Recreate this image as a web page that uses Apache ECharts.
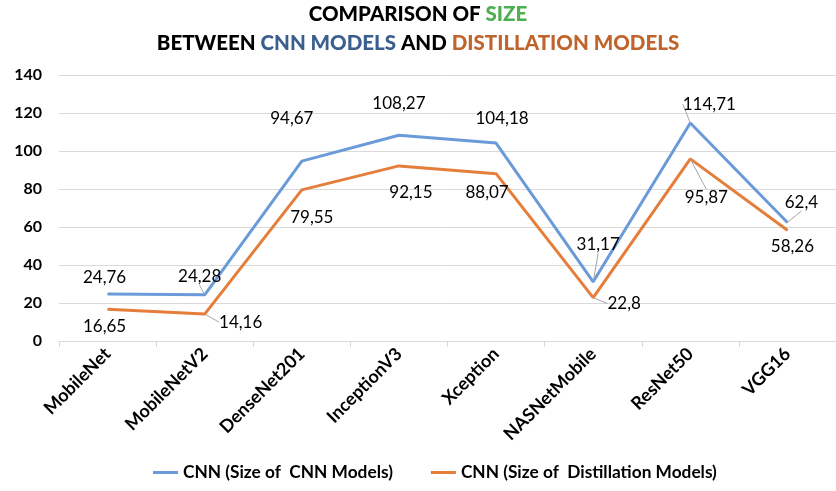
<!DOCTYPE html>
<html><head><meta charset="utf-8">
<script src="https://cdn.jsdelivr.net/npm/echarts@6/dist/echarts.min.js"></script>
<style>html,body{margin:0;padding:0;background:#fff}#c{width:836px;height:491px}</style>
</head><body><div id="c"></div>
<script>
const categories = ['MobileNet','MobileNetV2','DenseNet201','InceptionV3','Xception','NASNetMobile','ResNet50','VGG16'];
const cnnSizes = [24.76, 24.28, 94.67, 108.27, 104.18, 31.17, 114.71, 62.4];
const distillSizes = [16.65, 14.16, 79.55, 92.15, 88.07, 22.8, 95.87, 58.26];
const yTicks = [0, 20, 40, 60, 80, 100, 120, 140];
const seriesNames = ['CNN (Size of  CNN Models)', 'CNN (Size of  Distillation Models)'];

// label offsets (label centre relative to the point), styling only
const cnnLabelOff = [[-3,-16],[-5,-18],[-10,-43],[0,-32],[6,-25],[5,-37],[19,-19],[14,-20]];
const distLabelOff = [[-3,17],[36,8],[10,28],[12,27],[-9,19],[31,6],[16,39],[5,16]];
const cnnLeader = [false,true,false,false,false,true,true,true];
const distLeader = [false,true,false,false,false,true,true,false];

const FONT = 'Lato';
const fmt = v => String(v).replace('.', ',');

function buildData(vals, leaders){
  return vals.map((v,i)=>({value:v, labelLine:{show:leaders[i]}}));
}
function layoutFor(offs){
  return function(p){
    const o = offs[p.dataIndex];
    return {
      x: p.rect.x + p.rect.width/2 + o[0],
      y: p.rect.y + p.rect.height/2 + o[1],
      align: 'center', verticalAlign: 'middle'
    };
  };
}

const TS = 20.5;
const chart = echarts.init(document.getElementById('c'));
chart.setOption({
  backgroundColor: '#fff',
  animation: false,
  textStyle: {fontFamily: FONT},
  title: {
    left: 'center', top: -5,
    text: '{k|COMPARISON OF }{g|SIZE}\n{k|BETWEEN }{b|CNN MODELS}{k| AND }{o|DISTILLATION MODELS}',
    textStyle: {
      rich: {
        k: {color:'#000', fontWeight:'900', fontSize:TS, fontFamily:FONT, lineHeight:29},
        g: {color:'#4caf50', fontWeight:'900', fontSize:TS, fontFamily:FONT, lineHeight:29},
        b: {color:'#3a5f8f', fontWeight:'900', fontSize:TS, fontFamily:FONT, lineHeight:29},
        o: {color:'#c0642b', fontWeight:'900', fontSize:TS, fontFamily:FONT, lineHeight:29}
      }
    }
  },
  legend: {
    bottom: 5, left: 148, itemGap: 38,
    itemWidth: 25, itemHeight: 3,
    icon: 'rect',
    textStyle: {fontFamily: FONT, fontSize: 17.3, fontWeight: 'bold', color: '#000'},
    data: seriesNames
  },
  grid: {left: 59, right: -8, top: 75, bottom: 150, containLabel: false},
  xAxis: {
    type: 'category', data: categories, boundaryGap: true,
    axisLine: {lineStyle: {color: '#d9d9d9'}},
    axisTick: {show: true, length: 6, lineStyle: {color: '#d9d9d9'}},
    axisLabel: {rotate: 45, interval: 0, fontFamily: FONT, fontWeight: 'bold', fontSize: 18, color: '#000', margin: 10}
  },
  yAxis: {
    type: 'value', min: yTicks[0], max: yTicks[yTicks.length-1], interval: yTicks[1]-yTicks[0],
    axisLine: {show: false}, axisTick: {show: false},
    splitLine: {lineStyle: {color: '#d9d9d9'}},
    axisLabel: {fontFamily: FONT, fontWeight: 'bold', fontSize: 16, color: '#000', margin: 17}
  },
  series: [
    {
      name: seriesNames[0], type: 'line', data: buildData(cnnSizes, cnnLeader),
      symbol: 'circle', symbolSize: 1, showSymbol: true,
      lineStyle: {color: '#6a9bd8', width: 3}, itemStyle: {color: '#6a9bd8'},
      label: {show: true, formatter: p => fmt(p.value), fontFamily: FONT, fontSize: 17, color: '#000'},
      labelLine: {show: true, lineStyle: {color: '#a6a6a6', width: 1}},
      labelLayout: layoutFor(cnnLabelOff)
    },
    {
      name: seriesNames[1], type: 'line', data: buildData(distillSizes, distLeader),
      symbol: 'circle', symbolSize: 1, showSymbol: true,
      lineStyle: {color: '#e67e3b', width: 3}, itemStyle: {color: '#e67e3b'},
      label: {show: true, formatter: p => fmt(p.value), fontFamily: FONT, fontSize: 17, color: '#000'},
      labelLine: {show: true, lineStyle: {color: '#a6a6a6', width: 1}},
      labelLayout: layoutFor(distLabelOff)
    }
  ]
});
</script></body></html>
